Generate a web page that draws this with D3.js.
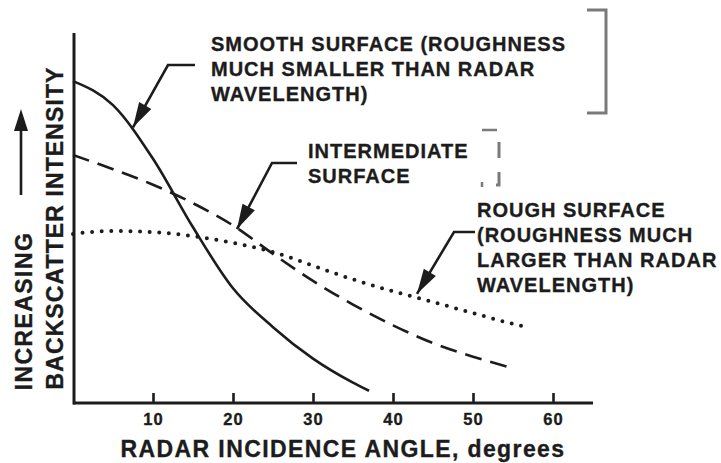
<!DOCTYPE html>
<html lang="en">
<head>
<meta charset="UTF-8">
<title>Radar backscatter vs incidence angle</title>
<script src="https://d3js.org/d3.v7.min.js"></script>
<style>
    body { margin: 0; background: #fff; }
    svg text {
        font-family: 'Liberation Sans', Arial, Helvetica, sans-serif;
        font-weight: bold;
        fill: #1c1c1c;
        stroke: #1c1c1c;
        stroke-width: 0.35px;
    }
    .curve { fill: none; stroke: #1c1c1c; }
</style>
</head>
<body>
<svg width="721" height="463"></svg>
<script>
    // data (angle in degrees, intensity in relative units 0-100)
    const smoothAngles = [0, 5, 10, 15, 20, 25, 30, 35, 37];
    const smoothValues = [87, 80.5, 66, 47.5, 31, 20.5, 12, 5.5, 3.3];

    const interAngles = [0, 5, 10, 15, 20, 25, 30, 35, 40, 45, 50, 54.5];
    const interValues = [67, 63.2, 59, 54, 48, 40.3, 33, 26.6, 21, 16.2, 12.5, 9.7];

    const roughAngles = [0, 5, 10, 15, 20, 25, 30, 35, 40, 45, 50, 55, 57];
    const roughValues = [45.7, 46.5, 46.2, 45.1, 43.3, 40.8, 37.1, 33.4, 30.2, 27.3, 24.3, 21.4, 20.4];

    const xTicks = [10, 20, 30, 40, 50, 60];

    const smoothLabel = ["SMOOTH SURFACE (ROUGHNESS", "MUCH SMALLER THAN RADAR", "WAVELENGTH)"];
    const interLabel = ["INTERMEDIATE", "SURFACE"];
    const roughLabel = ["ROUGH SURFACE", "(ROUGHNESS MUCH", "LARGER THAN RADAR", "WAVELENGTH)"];

    const svg = d3.select("svg");
    const ink = "#1c1c1c";

    const x = d3.scaleLinear().domain([0, 65]).range([73, 593]);
    const y = d3.scaleLinear().domain([0, 100]).range([403, 33]);

    const line = d3.line()
        .x(d => x(d[0]))
        .y(d => y(d[1]))
        .curve(d3.curveMonotoneX);

    // curves
    svg.append("path").attr("class", "curve")
        .attr("d", line(d3.zip(smoothAngles, smoothValues)))
        .attr("stroke-width", 2.6);

    svg.append("path").attr("class", "curve")
        .attr("d", line(d3.zip(interAngles, interValues)))
        .attr("stroke-width", 2.6)
        .attr("stroke-dasharray", "17 9");

    svg.append("path").attr("class", "curve")
        .attr("d", line(d3.zip(roughAngles, roughValues)))
        .attr("stroke-width", 4)
        .attr("stroke-linecap", "round")
        .attr("stroke-dasharray", "0 9.6");

    // axes
    const xAxis = svg.append("g").attr("transform", "translate(0,403)")
        .call(d3.axisTop(x).tickValues(xTicks).tickSize(10).tickFormat(""));
    xAxis.select(".domain").attr("d", `M${x(0)},0H${x(65)}`)
        .attr("stroke", ink).attr("stroke-width", 3);
    xAxis.selectAll(".tick line").attr("stroke", ink).attr("stroke-width", 2.6);

    svg.selectAll(".xlab").data(xTicks).join("text")
        .attr("class", "xlab")
        .attr("x", d => x(d) + 0.5)
        .attr("y", 425)
        .attr("text-anchor", "middle")
        .attr("font-size", 16.5)
        .attr("letter-spacing", 1)
        .text(d => d);

    svg.append("line")
        .attr("x1", x(0) + 1).attr("x2", x(0) + 1)
        .attr("y1", y(100)).attr("y2", y(0) + 1.5)
        .attr("stroke", ink).attr("stroke-width", 3);

    svg.append("text")
        .attr("x", 343).attr("y", 457)
        .attr("text-anchor", "middle")
        .attr("font-size", 23)
        .attr("letter-spacing", 1.4)
        .text("RADAR INCIDENCE ANGLE, degrees");

    svg.append("text")
        .attr("transform", "translate(32,311) rotate(-90)")
        .attr("text-anchor", "middle")
        .attr("font-size", 23)
        .attr("letter-spacing", 1.4)
        .text("INCREASING");

    svg.append("text")
        .attr("transform", "translate(63,228) rotate(-90)")
        .attr("text-anchor", "middle")
        .attr("font-size", 23)
        .attr("letter-spacing", 1.1)
        .text("BACKSCATTER INTENSITY");

    // upward arrow beside the y label
    svg.append("line")
        .attr("x1", 21).attr("x2", 21).attr("y1", 195).attr("y2", 125)
        .attr("stroke", ink).attr("stroke-width", 2.6);
    svg.append("path")
        .attr("d", "M21,109L14,131L28,131Z")
        .attr("fill", ink);

    // annotations with leader arrows
    function leader(pts) {
        svg.append("path")
            .attr("d", "M" + pts.map(p => p.join(",")).join("L"))
            .attr("fill", "none").attr("stroke", ink).attr("stroke-width", 2.6);
        const [a, b] = pts.slice(-2);
        const ang = Math.atan2(b[1] - a[1], b[0] - a[0]);
        const len = 25, hw = 7;
        const bx = b[0] - len * Math.cos(ang), by = b[1] - len * Math.sin(ang);
        const nx = -Math.sin(ang) * hw, ny = Math.cos(ang) * hw;
        svg.append("path")
            .attr("d", `M${b[0]},${b[1]}L${bx + nx},${by + ny}L${bx - nx},${by - ny}Z`)
            .attr("fill", ink);
    }

    function label(lines, lx, ly) {
        svg.append("g").selectAll("text").data(lines).join("text")
            .attr("x", lx)
            .attr("y", (d, i) => ly + i * 25)
            .attr("font-size", 20)
            .attr("letter-spacing", 1)
            .text(d => d);
    }

    label(smoothLabel, 211, 51);
    leader([[195, 65], [168, 65], [x(7.5), y(74.5)]]);

    label(interLabel, 308, 158);
    leader([[297, 163], [272, 163], [x(20.5), y(47)]]);

    label(roughLabel, 477, 217);
    leader([[475, 232], [454, 232], [x(43), y(29.5)]]);

    // grey brackets at the right
    const grey = "#7a7a7a";
    svg.append("path")
        .attr("d", "M587,10H606V113H587")
        .attr("fill", "none").attr("stroke", grey).attr("stroke-width", 3);
    svg.append("path")
        .attr("d", "M482,130H497")
        .attr("fill", "none").attr("stroke", grey).attr("stroke-width", 2.5);
    svg.append("path")
        .attr("d", "M499,142V158M499,172V185H496")
        .attr("fill", "none").attr("stroke", grey).attr("stroke-width", 3);
    svg.append("path")
        .attr("d", "M482,182V187")
        .attr("fill", "none").attr("stroke", grey).attr("stroke-width", 2.5);
</script>
</body>
</html>
